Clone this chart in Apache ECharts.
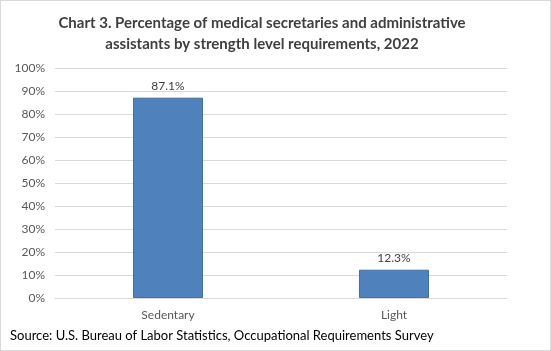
<!DOCTYPE html>
<html lang="en">
<head>
    <meta charset="UTF-8">
    <title>Chart 3</title>
    <style>
        body{
            margin: 0;
            background: #fff;
        }
        #myChart{
            width: 549px;
            height: 349px;
            border: 1px solid #d9d9d9;
        }
    </style>
</head>
<body>
<div id="myChart"></div>
<script src="https://cdn.jsdelivr.net/npm/echarts@6/dist/echarts.min.js"></script>
<script>
    var categories = ["Sedentary", "Light"];
    var values = [87.1, 12.3];
    var yTicks = [0, 100, 10]; // min, max, step

    var myChart = echarts.init(document.getElementById("myChart"));

    var option = {
        backgroundColor: "#fff",
        textStyle: { fontFamily: "Lato" },
        graphic: [{
            // title, centred a bit left of the canvas middle like the original
            type: "text",
            x: 261,
            y: 12,
            style: {
                text: "Chart 3. Percentage of medical secretaries and administrative\nassistants by strength level requirements, 2022",
                font: "bold 15px Lato",
                fill: "#404040",
                align: "center",
                lineHeight: 21
            }
        }, {
            type: "text",
            left: 9,
            bottom: 8,
            style: {
                text: "Source: U.S. Bureau of Labor Statistics, Occupational Requirements Survey",
                font: "13px Lato",
                fill: "#000"
            }
        }],
        grid: {
            left: 54,
            right: 43,
            top: 67,
            bottom: 52,
            containLabel: false
        },
        xAxis: {
            type: "category",
            data: categories,
            axisLine: { lineStyle: { color: "#d9d9d9" } },
            axisTick: { show: false },
            axisLabel: { color: "#595959", fontSize: 12, margin: 11 }
        },
        yAxis: {
            type: "value",
            min: yTicks[0],
            max: yTicks[1],
            interval: yTicks[2],
            axisLine: { show: false },
            axisTick: { show: false },
            splitLine: { lineStyle: { color: "#d9d9d9" } },
            axisLabel: { color: "#595959", fontSize: 12, margin: 10, formatter: "{value}%" }
        },
        series: [{
            type: "bar",
            data: values,
            barWidth: "31%",
            itemStyle: {
                color: "#4f81bd",
                borderColor: "#41719c",
                borderWidth: 1
            },
            label: {
                show: true,
                position: "top",
                distance: 6,
                color: "#404040",
                fontSize: 12,
                formatter: function (p) { return p.value.toFixed(1) + "%"; }
            }
        }]
    };
    myChart.setOption(option);
</script>
</body>
</html>
